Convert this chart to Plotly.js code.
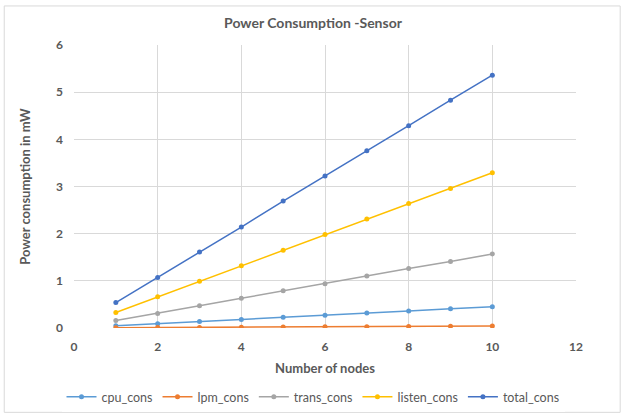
<!DOCTYPE html>
<html>
<head>
<meta charset="utf-8">
<script src="https://cdn.plot.ly/plotly-3.0.1.min.js"></script>
<style>html,body{margin:0;padding:0;background:#fff;}#chart{width:626px;height:415px;}</style>
</head>
<body>
<div id="chart"></div>
<script>
const nodes = [1, 2, 3, 4, 5, 6, 7, 8, 9, 10];
const cpuCons = [0.05, 0.09, 0.14, 0.18, 0.23, 0.27, 0.32, 0.36, 0.41, 0.45];
const lpmCons = [0.005, 0.009, 0.013, 0.017, 0.021, 0.025, 0.029, 0.034, 0.038, 0.042];
const transCons = [0.16, 0.31, 0.47, 0.63, 0.79, 0.94, 1.10, 1.26, 1.41, 1.57];
const listenCons = [0.33, 0.66, 0.99, 1.32, 1.65, 1.98, 2.31, 2.64, 2.96, 3.29];
const totalCons = [0.54, 1.07, 1.61, 2.14, 2.69, 3.22, 3.76, 4.29, 4.83, 5.36];

const seriesNames = ["cpu_cons", "lpm_cons", "trans_cons", "listen_cons", "total_cons"];
const seriesData = [cpuCons, lpmCons, transCons, listenCons, totalCons];
const colors = ["#5B9BD5", "#ED7D31", "#A5A5A5", "#FFC000", "#4472C4"];

const traces = seriesNames.map((name, i) => ({
  x: nodes, y: seriesData[i], name: name, type: "scatter", mode: "lines+markers",
  line: {color: colors[i], width: 1.5},
  marker: {color: colors[i], size: 5}
}));

const fontFam = "Lato, 'Open Sans', sans-serif";
const layout = {
  width: 626, height: 415,
  margin: {l: 74, r: 50, t: 45, b: 87, autoexpand: false},
  paper_bgcolor: "#fff", plot_bgcolor: "#fff",
  font: {family: fontFam, color: "#595959", size: 12},
  title: {text: "<b>Power Consumption -Sensor</b>", x: 0.5, xanchor: "center", y: 0.945, yanchor: "middle",
          font: {family: fontFam, size: 14, color: "#595959"}},
  xaxis: {range: [0, 12], dtick: 2, tick0: 0, showgrid: true, gridcolor: "#d9d9d9", gridwidth: 1,
          zeroline: false, showline: false, ticks: "", ticklabelstandoff: 10, automargin: false,
          tickfont: {family: fontFam, size: 12, color: "#595959", weight: "bold"},
          title: {text: "<b>Number of nodes</b>", standoff: 10, font: {family: fontFam, size: 13, color: "#595959"}}},
  yaxis: {range: [0, 6], dtick: 1, tick0: 0, showgrid: true, gridcolor: "#d9d9d9", gridwidth: 1,
          zeroline: false, showline: false, ticks: "", ticklabelstandoff: 10, automargin: false,
          tickfont: {family: fontFam, size: 12, color: "#595959", weight: "bold"},
          title: {text: "<b>Power consumption in mW</b>", standoff: 22, font: {family: fontFam, size: 13, color: "#595959"}}},
  legend: {orientation: "h", xref: "container", yref: "container", x: 0.5, xanchor: "center", y: 1 - 397 / 415, yanchor: "middle",
           font: {family: fontFam, size: 12.5, color: "#595959"}, itemwidth: 30, tracegroupgap: 0},
  shapes: [{type: "rect", xref: "paper", yref: "paper", x0: -0.139, x1: 1.088, y0: -0.298, y1: 1.138,
            line: {color: "#d9d9d9", width: 1}, fillcolor: "rgba(0,0,0,0)", layer: "below"}],
  showlegend: true
};

Plotly.newPlot("chart", traces, layout, {displayModeBar: false, staticPlot: true});
</script>
</body>
</html>
